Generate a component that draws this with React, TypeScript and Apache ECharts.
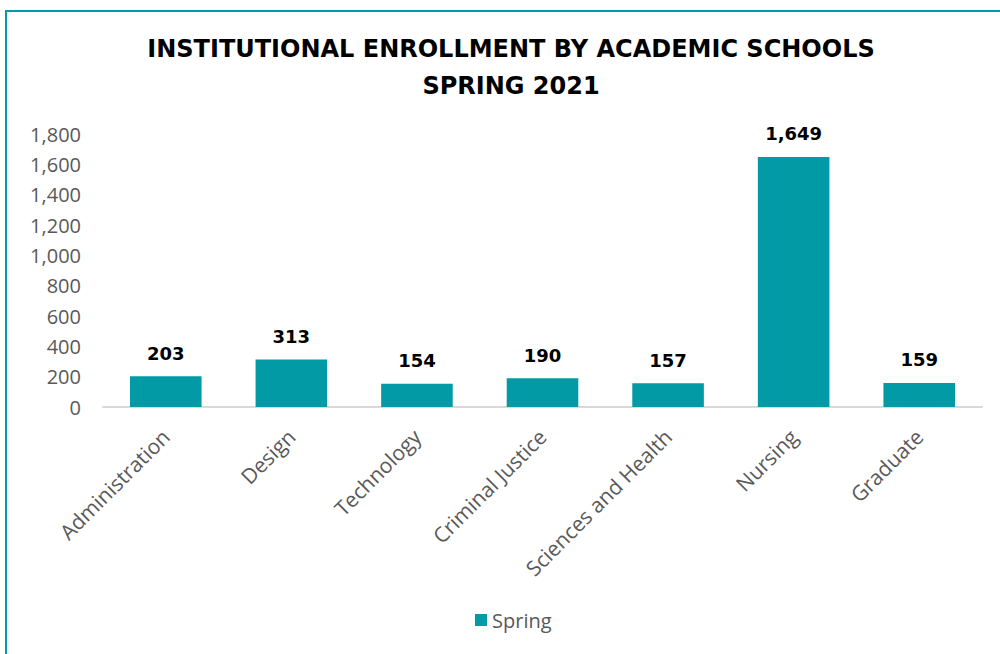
import React, { useEffect, useRef } from "react";
import * as echarts from "echarts";

const categories = ["Administration", "Design", "Technology", "Criminal Justice", "Sciences and Health", "Nursing", "Graduate"];
const springValues = [203, 313, 154, 190, 157, 1649, 159];
const titleLines = ["INSTITUTIONAL ENROLLMENT BY ACADEMIC SCHOOLS", "SPRING 2021"];
const seriesName = "Spring";

const TEAL = "#029AA5";
const GRAY = "#595959";

export default function App() {
  const ref = useRef<HTMLDivElement>(null);
  useEffect(() => {
    if (!ref.current) return;
    const chart = echarts.init(ref.current, null, { renderer: "svg" });
    chart.setOption({
      animation: false,
      backgroundColor: "#ffffff",
      graphic: [
        {
          type: "rect",
          shape: { x: 6, y: 11, width: 1100, height: 800 },
          style: { fill: "none", stroke: TEAL, lineWidth: 2 },
          silent: true,
        },
        ...titleLines.map((t, i) => ({
          type: "text",
          x: 511,
          y: 49 + i * 37,
          silent: true,
          style: {
            text: t,
            fill: "#000000",
            font: "bold 24px 'DejaVu Sans'",
            textAlign: "center",
            textVerticalAlign: "middle",
          },
        })),
      ],
      legend: {
        data: [seriesName],
        bottom: 19,
        left: 470,
        icon: "rect",
        itemWidth: 12,
        itemHeight: 12,
        itemGap: 6,
        textStyle: { fontFamily: "Open Sans", fontSize: 20, color: GRAY },
      },
      grid: { left: 103, right: 18, top: 134, bottom: 247, containLabel: false },
      xAxis: {
        type: "category",
        data: categories,
        axisLine: { show: true, lineStyle: { color: "#d9d9d9", width: 2 } },
        axisTick: { show: false },
        axisLabel: {
          rotate: 45,
          interval: 0,
          margin: 26,
          fontFamily: "Open Sans",
          fontSize: 21,
          color: GRAY,
        },
      },
      yAxis: {
        type: "value",
        min: 0,
        max: 1800,
        interval: 200,
        axisLine: { show: false },
        axisTick: { show: false },
        splitLine: { show: false },
        axisLabel: {
          margin: 22,
          fontFamily: "Open Sans",
          fontSize: 20,
          color: GRAY,
          formatter: (v: number) => v.toLocaleString("en-US"),
        },
      },
      series: [
        {
          name: seriesName,
          type: "bar",
          data: springValues,
          barWidth: "57%",
          itemStyle: { color: TEAL },
          label: {
            show: true,
            position: "top",
            distance: 14,
            fontFamily: "DejaVu Sans",
            fontWeight: "bold",
            fontSize: 18,
            color: "#000000",
            formatter: (p: any) => Number(p.value).toLocaleString("en-US"),
          },
        },
      ],
    });
    return () => chart.dispose();
  }, []);
  return (
    <div
      ref={ref}
      style={{ position: "fixed", left: 0, top: 0, width: 1000, height: 654 }}
    />
  );
}
